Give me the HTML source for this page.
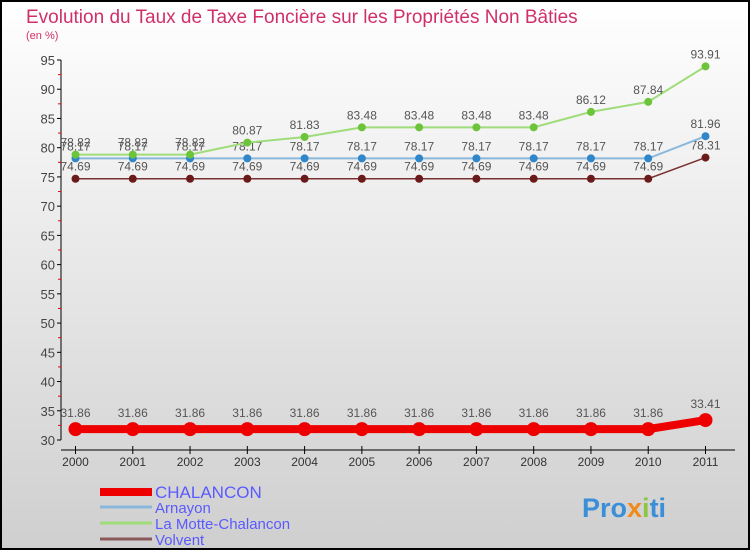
<!DOCTYPE html>
<html><head><meta charset="utf-8"><style>
body{margin:0}
#c{width:750px;height:550px;position:relative;overflow:hidden}
svg text{font-family:"Liberation Sans",sans-serif}
</style></head><body>
<div id="c">
<svg id="s" width="750" height="550" xmlns="http://www.w3.org/2000/svg">
<defs><linearGradient id="bg" x1="0" y1="0" x2="0" y2="1"><stop offset="0" stop-color="#ffffff"/><stop offset="1" stop-color="#cfcfcf"/></linearGradient></defs>
<rect x="1" y="1" width="748" height="548" fill="url(#bg)" stroke="#000" stroke-width="2"/>
<text x="26" y="23" font-size="19" fill="#d0306a">Evolution du Taux de Taxe Foncière sur les Propriétés Non Bâties</text>
<text x="26" y="39" font-size="11" fill="#d0306a">(en %)</text>
<g id="axes"></g><g id="series"></g><g id="legend"></g>
<text x="582" y="517" font-size="27" font-weight="bold" fill="#3a8fd8">Pro<tspan fill="#f08a1a">x</tspan><tspan fill="#8cc63f">i</tspan>ti</text>
</svg></div>
<script>
const years=[2000,2001,2002,2003,2004,2005,2006,2007,2008,2009,2010,2011];
const yTicks=[30,35,40,45,50,55,60,65,70,75,80,85,90,95];
const chalancon=[31.86,31.86,31.86,31.86,31.86,31.86,31.86,31.86,31.86,31.86,31.86,33.41];
const arnayon=[78.17,78.17,78.17,78.17,78.17,78.17,78.17,78.17,78.17,78.17,78.17,81.96];
const motte=[78.82,78.82,78.82,80.87,81.83,83.48,83.48,83.48,83.48,86.12,87.84,93.91];
const volvent=[74.69,74.69,74.69,74.69,74.69,74.69,74.69,74.69,74.69,74.69,74.69,78.31];
const NS='http://www.w3.org/2000/svg';
const X=i=>75.5+i*(705.5-75.5)/(years.length-1);
const Y=v=>440-(v-30)*(380/65);
function mk(t,a,p){const e=document.createElementNS(NS,t);for(const k in a)e.setAttribute(k,a[k]);p.appendChild(e);return e;}
const ax=document.getElementById('axes');
let e=mk('line',{x1:61,y1:60,x2:61,y2:440,stroke:'#000'},ax);


yTicks.forEach(v=>{
 mk('line',{x1:57,x2:61,y1:Y(v),y2:Y(v),stroke:'#000'},ax);
 if(v<95)mk('line',{x1:58,x2:61,y1:Y(v+2.5),y2:Y(v+2.5),stroke:'#e00'},ax);
 const t=mk('text',{x:55,y:Y(v)+5,'font-size':13,'text-anchor':'end',fill:'#444'},ax);t.textContent=v;
 
 
});
e=mk('line',{x1:61,y1:450,x2:735,y2:450,stroke:'#000'},ax);


years.forEach((y,i)=>{
 mk('line',{x1:X(i),x2:X(i),y1:446,y2:454,stroke:'#000'},ax);
 const t=mk('text',{x:X(i),y:466,'font-size':12,'text-anchor':'middle',fill:'#333'},ax);t.textContent=y;
 
 
});
const sg=document.getElementById('series');
function series(name,data,col,dot,w,r,dy){
 const g=mk('g',{},sg);
 
 
 mk('polyline',{points:data.map((v,i)=>X(i)+','+Y(v)).join(' '),fill:'none',stroke:col,'stroke-width':w},g);
 data.forEach((v,i)=>{
  const c=mk('circle',{cx:X(i),cy:Y(v),r:r,fill:dot},g);
  
  
  const t=mk('text',{x:X(i),y:Y(v)+dy,'font-size':12,'text-anchor':'middle',fill:'#555'},g);t.textContent=v;
  
  
 });
}
series('volvent',volvent,'#7a3030','#6a1a1a',1.5,4,-8);
series('arnayon',arnayon,'#8ab8dc','#2f86c8',2,4,-8);
series('motte',motte,'#9fdc7a','#6cc43a',2,4,-8);
series('chalancon',chalancon,'#ee0000','#ee0000',8,7,-12);
const lg=document.getElementById('legend');
const L=[['CHALANCON','#ee0000',8,492],['Arnayon','#8ab8dc',3,507],['La Motte-Chalancon','#9fdc7a',3,523],['Volvent','#8a5a5a',3,539]];
L.forEach(([n,c,w,y])=>{
 const g=mk('g',{},lg);
 
 
 mk('line',{x1:100,x2:152,y1:y,y2:y,stroke:c,'stroke-width':w},g);
 const t=mk('text',{x:155,y:y+6,'font-size':w>4?17:15,fill:'#5a5aff'},g);t.textContent=n;
});
</script>
</body></html>
